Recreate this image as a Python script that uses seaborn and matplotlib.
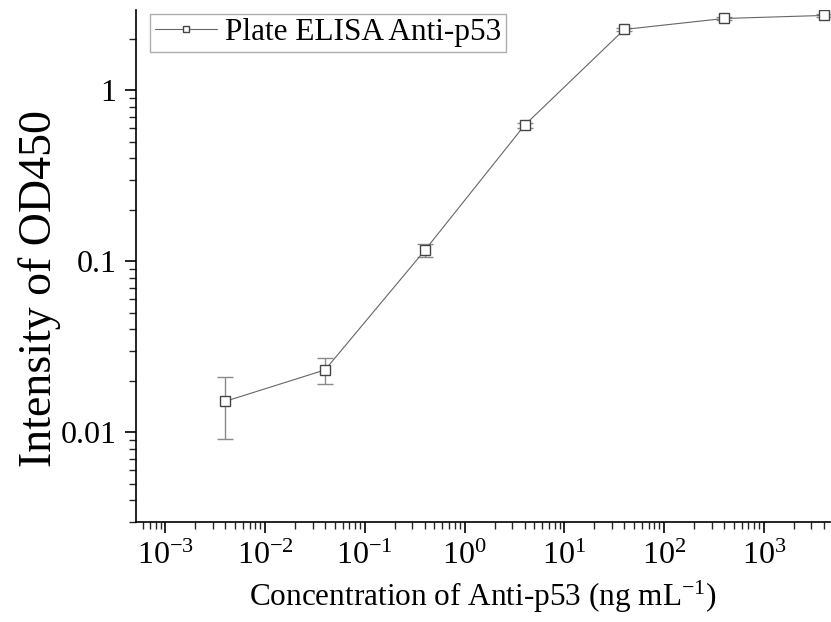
import pandas as pd
import matplotlib
matplotlib.use("Agg")
import matplotlib.pyplot as plt
import matplotlib.ticker as mticker
import seaborn as sns

# values
conc = [0.004, 0.04, 0.4, 4, 40, 400, 4000]
od450 = [0.0152, 0.0232, 0.116, 0.625, 2.27, 2.63, 2.74]
od_err = [0.006, 0.004, 0.010, 0.020, 0.05, 0.05, 0.06]
x_ticks = [1e-3, 1e-2, 1e-1, 1e0, 1e1, 1e2, 1e3]
y_ticks = [0.01, 0.1, 1]
y_tick_labels = ["0.01", "0.1", "1"]

df = pd.DataFrame({"conc": conc, "od": od450, "err": od_err})

sns.set_theme(style="ticks")
plt.rcParams["font.family"] = ["Liberation Serif", "DejaVu Serif"]
plt.rcParams["mathtext.fontset"] = "custom"
plt.rcParams["mathtext.rm"] = "Liberation Serif"
plt.rcParams["mathtext.it"] = "Liberation Serif:italic"
plt.rcParams["text.color"] = "black"
plt.rcParams["axes.labelcolor"] = "black"

fig = plt.figure(figsize=(8.31, 6.22), dpi=100)
ax = fig.add_axes([0.1637, 0.161, 0.835, 0.823])

ax.errorbar(df["conc"], df["od"], yerr=df["err"], fmt="none",
            ecolor="#8a8a8a", elinewidth=1.0, capsize=6, capthick=1.0, zorder=2)
sns.lineplot(data=df, x="conc", y="od", ax=ax, color="#666666", lw=0.8,
             marker="s", markersize=7, markerfacecolor="white",
             markeredgecolor="#444444", markeredgewidth=1.0,
             label="Plate ELISA Anti-p53", zorder=3)

ax.set_xscale("log")
ax.set_yscale("log")
ax.set_xlim(5.1e-4, 4.6e3)
ax.set_ylim(0.003, 2.95)

ax.xaxis.set_major_locator(mticker.FixedLocator(x_ticks))
ax.xaxis.set_major_formatter(mticker.LogFormatterSciNotation())
ax.xaxis.set_minor_locator(mticker.LogLocator(base=10, subs=range(2, 10), numticks=20))
ax.xaxis.set_minor_formatter(mticker.NullFormatter())
ax.yaxis.set_major_locator(mticker.FixedLocator(y_ticks))
ax.yaxis.set_major_formatter(mticker.FixedFormatter(y_tick_labels))
ax.yaxis.set_minor_locator(mticker.LogLocator(base=10, subs=range(2, 10), numticks=20))
ax.yaxis.set_minor_formatter(mticker.NullFormatter())

ax.tick_params(axis="both", which="major", direction="out", length=8, width=1.2,
               labelsize=23, colors="black", pad=6)
ax.tick_params(axis="both", which="minor", direction="out", length=5, width=1.0)

for side in ["top", "right"]:
    ax.spines[side].set_visible(False)
for side in ["left", "bottom"]:
    ax.spines[side].set_linewidth(1.2)
    ax.spines[side].set_color("black")

ax.set_xlabel("Concentration of Anti-p53 (ng mL$^{-1}$)", fontsize=22.5, labelpad=6)
ax.set_ylabel("Intensity of OD450", fontsize=33)
ax.yaxis.set_label_coords(-0.108, 0.455)

leg = ax.legend(loc="upper left", fontsize=22.5, frameon=True, fancybox=False,
                handlelength=2.0, borderpad=0.15, handletextpad=0.25,
                borderaxespad=0.0, markerscale=0.65,
                bbox_to_anchor=(0.02, 0.993))
leg.get_frame().set_edgecolor("#999999")
leg.get_frame().set_linewidth(1.0)

fig.savefig("out.png", dpi=100)
